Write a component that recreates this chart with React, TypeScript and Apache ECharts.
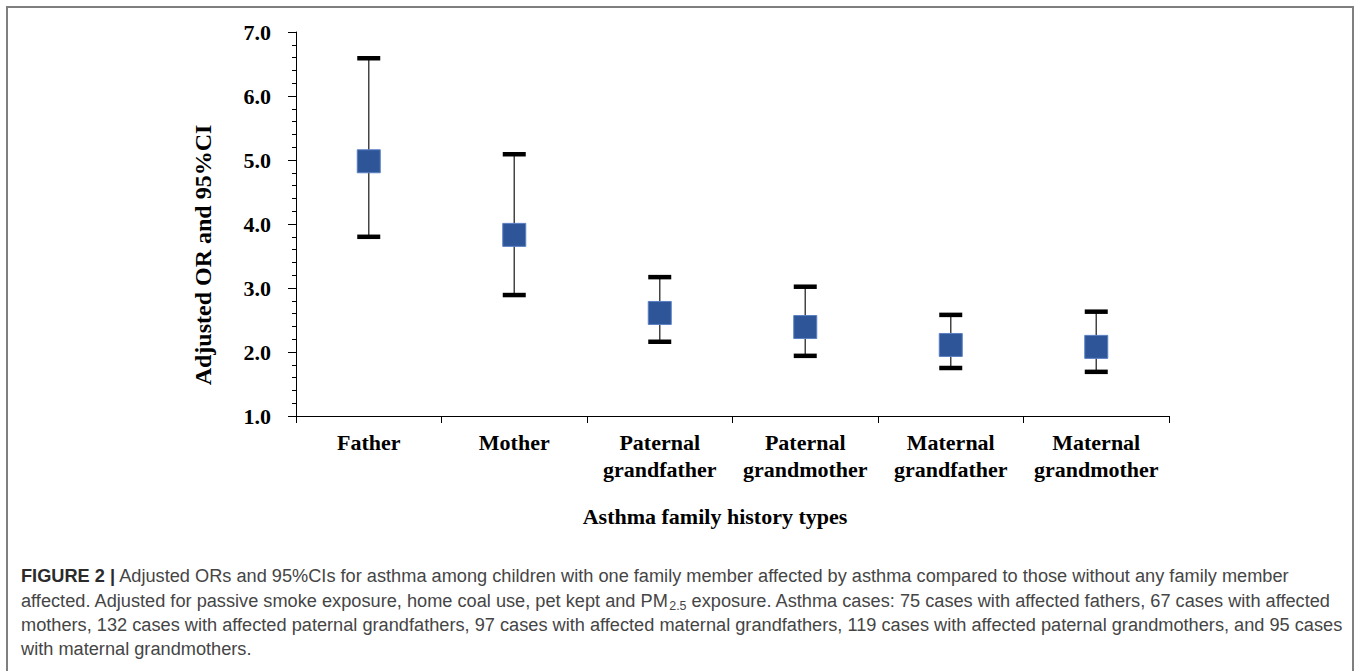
import React, { useEffect, useRef } from "react";
import * as echarts from "echarts";

const categories = [
  "Father",
  "Mother",
  "Paternal\ngrandfather",
  "Paternal\ngrandmother",
  "Maternal\ngrandfather",
  "Maternal\ngrandmother",
];
const oddsRatios = [4.98, 3.83, 2.61, 2.39, 2.11, 2.08];
const ciLower = [3.8, 2.89, 2.16, 1.94, 1.75, 1.69];
const ciUpper = [6.59, 5.09, 3.17, 3.02, 2.58, 2.63];
const yMin = 1;
const yMax = 7;
const yStep = 1;

const yAxisTitle = "Adjusted OR and 95%CI";
const xAxisTitle = "Asthma family history types";

const captionLines = [
  "{b|FIGURE 2 |}{n| Adjusted ORs and 95%CIs for asthma among children with one family member affected by asthma compared to those without any family member}",
  "{n|affected. Adjusted for passive smoke exposure, home coal use, pet kept and PM}{s|2.5}{n| exposure. Asthma cases: 75 cases with affected fathers, 67 cases with affected}",
  "{n|mothers, 132 cases with affected paternal grandfathers, 97 cases with affected maternal grandfathers, 119 cases with affected paternal grandmothers, and 95 cases}",
  "{n|with maternal grandmothers.}",
];

const SERIF = "'Liberation Serif', 'Times New Roman', serif";
const SANS = "'Liberation Sans', Arial, sans-serif";
const CAP_SIZE = 19;

function measure(text: string, font: string): number {
  const ctx = document.createElement("canvas").getContext("2d");
  if (!ctx) return text.length * 9;
  ctx.font = font;
  return ctx.measureText(text).width;
}

export default function App() {
  const ref = useRef<HTMLDivElement>(null);

  useEffect(() => {
    if (!ref.current) return;
    const chart = echarts.init(ref.current, undefined, { renderer: "svg" });

    const w1 =
      measure("FIGURE 2 |", `bold ${CAP_SIZE}px ${SANS}`) +
      measure(
        " Adjusted ORs and 95%CIs for asthma among children with one family member affected by asthma compared to those without any family member",
        `${CAP_SIZE}px ${SANS}`
      );
    const capScale = 1270 / w1;

    const errData = categories.map((_, i) => [i, ciLower[i], ciUpper[i]]);
    const ptData = categories.map((_, i) => [i, oddsRatios[i]]);

    const capY = [575, 600, 624, 648];

    chart.setOption({
      animation: false,
      backgroundColor: "#ffffff",
      grid: { left: 296, right: 188, top: 32, bottom: 255, containLabel: false },
      xAxis: {
        type: "category",
        data: categories,
        boundaryGap: true,
        name: xAxisTitle,
        nameLocation: "middle",
        nameGap: 89,
        nameTextStyle: {
          fontFamily: SERIF,
          fontWeight: "bold",
          fontSize: 22,
          color: "#000",
          padding: [0, 35, 0, 0],
        },
        axisLine: { lineStyle: { color: "#000", width: 1 } },
        axisTick: { show: true, length: 7, alignWithLabel: false, lineStyle: { color: "#000" } },
        axisLabel: {
          fontFamily: SERIF,
          fontWeight: "bold",
          fontSize: 22,
          color: "#000",
          lineHeight: 27,
          margin: 13,
          interval: 0,
        },
        splitLine: { show: false },
      },
      yAxis: {
        type: "value",
        min: yMin,
        max: yMax,
        interval: yStep,
        name: yAxisTitle,
        nameLocation: "middle",
        nameGap: 81,
        nameRotate: 90,
        nameTextStyle: {
          fontFamily: SERIF,
          fontWeight: "bold",
          fontSize: 24,
          color: "#000",
          padding: [0, 62, 0, 0],
        },
        axisLine: { show: true, lineStyle: { color: "#000", width: 1 } },
        axisTick: { show: true, length: 8, lineStyle: { color: "#000" } },
        minorTick: { show: true, splitNumber: 5, length: 4, lineStyle: { color: "#000" } },
        axisLabel: {
          fontFamily: SERIF,
          fontWeight: "bold",
          fontSize: 22,
          color: "#000",
          margin: 25,
          formatter: (v: number) => v.toFixed(1),
        },
        splitLine: { show: false },
      },
      series: [
        {
          type: "custom",
          data: errData,
          encode: { x: 0, y: [1, 2] },
          z: 2,
          renderItem: (params: any, api: any) => {
            const idx = api.value(0);
            const lo = api.coord([idx, api.value(1)]);
            const hi = api.coord([idx, api.value(2)]);
            const capW = 23;
            const capH = 4.5;
            return {
              type: "group",
              children: [
                {
                  type: "line",
                  shape: { x1: lo[0], y1: lo[1], x2: hi[0], y2: hi[1] },
                  style: { stroke: "#444", lineWidth: 1.5 },
                },
                {
                  type: "rect",
                  shape: { x: lo[0] - capW / 2, y: lo[1] - capH / 2, width: capW, height: capH },
                  style: { fill: "#000" },
                },
                {
                  type: "rect",
                  shape: { x: hi[0] - capW / 2, y: hi[1] - capH / 2, width: capW, height: capH },
                  style: { fill: "#000" },
                },
              ],
            };
          },
        },
        {
          type: "scatter",
          data: ptData,
          symbol: "rect",
          symbolSize: 23,
          z: 3,
          itemStyle: { color: "#2E5597", borderColor: "#5A80C4", borderWidth: 1, opacity: 1 },
        },
      ],
      graphic: [
        {
          type: "rect",
          silent: true,
          shape: { x: 7, y: 7, width: 1346, height: 700 },
          style: { fill: "none", stroke: "#7f7f7f", lineWidth: 2 },
        },
        ...captionLines.map((t, i) => ({
          type: "text",
          x: 21,
          y: capY[i],
          scaleX: capScale,
          style: {
            text: t,
            textVerticalAlign: "middle",
            verticalAlign: "middle",
            rich: {
              b: { fontFamily: SANS, fontWeight: "bold", fontSize: CAP_SIZE, fill: "#2b2b2b", lineHeight: 24 },
              n: { fontFamily: SANS, fontSize: CAP_SIZE, fill: "#454545", lineHeight: 24 },
              s: { fontFamily: SANS, fontSize: 13, fill: "#454545", lineHeight: 24, verticalAlign: "bottom" },
            },
          },
        })),
      ],
    });

    return () => chart.dispose();
  }, []);

  return (
    <div
      ref={ref}
      style={{ position: "fixed", left: 0, top: 0, width: 1357, height: 671, background: "#fff" }}
    />
  );
}
